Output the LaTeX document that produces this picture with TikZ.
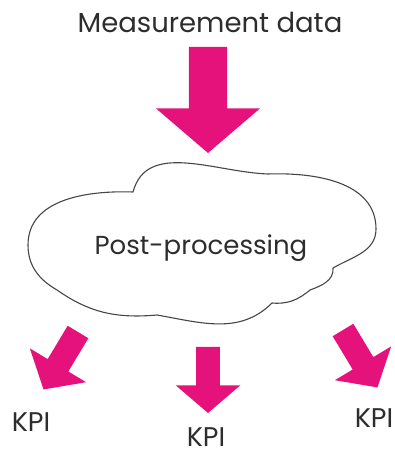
\documentclass[tikz,border=0pt]{standalone}
\usepackage{fontspec}
\setmainfont{Poppins}
\definecolor{kpink}{RGB}{228,18,122}
\definecolor{inkgray}{RGB}{45,45,45}
\definecolor{cloudline}{RGB}{70,70,70}
\begin{document}
\begin{tikzpicture}[x=1pt,y=1pt,
  label/.style={inner sep=0pt,anchor=base,text=inkgray},
  titletext/.style={label,font=\fontsize{27.5}{27.5}\selectfont},
  cloudtext/.style={label,font=\fontsize{26}{26}\selectfont},
  kpitext/.style={label,font=\fontsize{27}{27}\selectfont},
  cloudpath/.style={draw=cloudline,line width=1.1pt,fill=white,line join=round},
  blockarrow/.pic={
    \fill[kpink] (-0.18,0) -- (0.18,0) -- (0.18,-0.58) -- (0.49,-0.58)
      -- (0,-1) -- (-0.49,-0.58) -- (-0.18,-0.58) -- cycle;
  }]
\useasboundingbox (0,0) rectangle (394,457);

% title and the big arrow into the cloud
\node[titletext] (meas) at (210,424) {Measurement data};
\pic[scale=106] at (208,410) {blockarrow};

% cloud outline
\coordinate (cA) at (133,265);
\coordinate (cB) at (268,283);
\coordinate (cR) at (376,228);
\coordinate (cC) at (333,189);
\coordinate (cD) at (310,167);
\coordinate (cE) at (272,154);
\coordinate (cF) at (157,142);
\coordinate (cG) at (57,167);
\coordinate (cL) at (28,212);
\path[cloudpath] (cA) to[out=75,in=178] (cB)
  to[out=2,in=90] (cR) to[out=-90,in=30] (cC)
  to[out=-85,in=20] (cD) to[out=-140,in=-5] (cE)
  to[out=-135,in=-10] (cF) to[out=185,in=-35] (cG)
  to[out=150,in=-90] (cL) to[out=90,in=178] (cA) -- cycle;
\node[cloudtext] (post) at (201,202) {Post-processing};

% three outgoing arrows
\pic[scale=67,rotate=-31] at (78,125) {blockarrow};
\pic[scale=66] at (208,110) {blockarrow};
\pic[scale=67,rotate=31] at (343,127) {blockarrow};

% results
\node[kpitext] (kpiL) at (31,25) {KPI};
\node[kpitext] (kpiM) at (206,10) {KPI};
\node[kpitext] (kpiR) at (374,29) {KPI};
\end{tikzpicture}
\end{document}
